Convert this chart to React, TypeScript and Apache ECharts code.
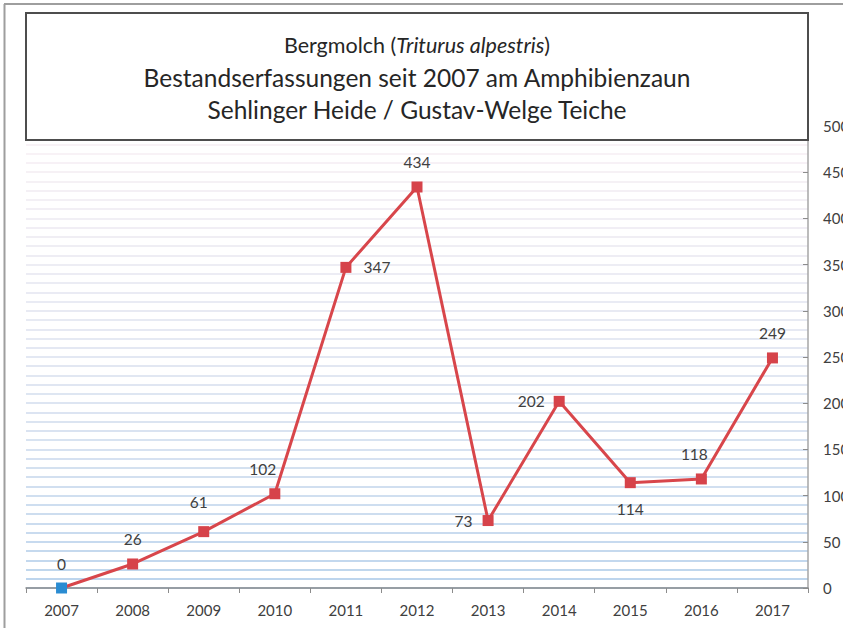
import React, { useEffect, useRef } from "react";
import * as echarts from "echarts";

const years = ["2007", "2008", "2009", "2010", "2011", "2012", "2013", "2014", "2015", "2016", "2017"];
const counts = [0, 26, 61, 102, 347, 434, 73, 202, 114, 118, 249];
const titleLine1Plain = "Bergmolch (";
const titleLine1Italic = "Triturus alpestris";
const titleLine2 = "Bestandserfassungen seit 2007 am Amphibienzaun";
const titleLine3 = "Sehlinger Heide / Gustav-Welge Teiche";

const FONT = "Lato";

const labelCfg: any[] = [
  { position: "top", distance: 11 },
  { position: "top", distance: 11 },
  { position: "top", distance: 16, offset: [-5, 0] },
  { position: "top", distance: 11, offset: [-12, 0] },
  { position: "right", distance: 12 },
  { position: "top", distance: 11 },
  { position: "left", distance: 10 },
  { position: "left", distance: 9 },
  { position: "bottom", distance: 13 },
  { position: "top", distance: 11, offset: [-7, 0] },
  { position: "top", distance: 11 },
];

function stripeColors(): string[] {
  const out: string[] = [];
  const a = [182, 210, 236];
  const b = [250, 243, 246];
  for (let i = 0; i <= 50; i++) {
    const t = Math.pow(i / 50, 0.6);
    const c = a.map((v, k) => Math.round(v + (b[k] - v) * t));
    out.push(`rgb(${c[0]},${c[1]},${c[2]})`);
  }
  return out;
}

export default function App() {
  const ref = useRef<HTMLDivElement>(null);
  useEffect(() => {
    document.body.style.margin = "0";
    document.body.style.overflow = "hidden";
    document.documentElement.style.overflow = "hidden";
    const chart = echarts.init(ref.current!, null, { renderer: "svg", width: 843, height: 628 });
    const data = counts.map((v, i) => ({
      value: v,
      itemStyle: i === 0 ? { color: "#2a8cd2" } : undefined,
      label: labelCfg[i],
    }));
    chart.setOption({
      animation: false,
      backgroundColor: "#fff",
      grid: { left: 26, right: 35, top: 126, bottom: 40, containLabel: false, outerBoundsMode: "none" },
      xAxis: {
        type: "category",
        data: years,
        boundaryGap: true,
        axisLine: { lineStyle: { color: "#8c8c8c", width: 1.5 } },
        axisTick: { show: true, length: 5, lineStyle: { color: "#8c8c8c" } },
        axisLabel: { color: "#404040", fontFamily: FONT, fontSize: 15, margin: 14 },
        splitLine: { show: false },
      },
      yAxis: [
        {
          type: "value",
          position: "right",
          min: 0,
          max: 500,
          interval: 50,
          axisLine: { show: true, lineStyle: { color: "#a6a6a6", width: 1.5 } },
          axisTick: { show: true, inside: true, length: 5, lineStyle: { color: "#8c8c8c" } },
          axisLabel: { color: "#404040", fontFamily: FONT, fontSize: 15, margin: 15 },
          splitLine: { show: false },
        },
        {
          type: "value",
          position: "right",
          min: 0,
          max: 500,
          interval: 10,
          axisLine: { show: false },
          axisTick: { show: false },
          axisLabel: { show: false },
          splitLine: { show: true, lineStyle: { color: stripeColors(), width: 2 } },
        },
      ],
      series: [
        {
          type: "line",
          yAxisIndex: 0,
          data,
          symbol: "rect",
          symbolSize: 11,
          lineStyle: { color: "#d8464b", width: 3 },
          itemStyle: { color: "#d6434a" },
          label: {
            show: true,
            color: "#404040",
            fontFamily: FONT,
            fontSize: 15.5,
          },
          z: 3,
        },
      ],
      graphic: [
        {
          type: "line",
          shape: { x1: 4, y1: 4, x2: 843, y2: 4 },
          style: { stroke: "#9e9e9e", lineWidth: 2 },
          z: 10,
        },
        {
          type: "line",
          shape: { x1: 4.5, y1: 4, x2: 4.5, y2: 628 },
          style: { stroke: "#9e9e9e", lineWidth: 2 },
          z: 10,
        },
        {
          type: "rect",
          shape: { x: 26, y: 13, width: 782, height: 127 },
          style: { fill: "#ffffff", stroke: "#4d4d4d", lineWidth: 2 },
          z: 10,
        },
        {
          type: "text",
          x: 417,
          y: 45,
          style: {
            text: `{n|${titleLine1Plain}}{i|${titleLine1Italic}}{n|)}`,
            align: "center",
            verticalAlign: "middle",
            rich: {
              n: { fontFamily: FONT, fontSize: 21.5, fill: "#262626" },
              i: { fontFamily: FONT, fontSize: 21.5, fontStyle: "italic", fill: "#262626" },
            },
          },
          z: 11,
        },
        {
          type: "text",
          x: 417,
          y: 77,
          style: {
            text: titleLine2,
            align: "center",
            verticalAlign: "middle",
            fontFamily: FONT,
            fontSize: 24.5,
            fill: "#262626",
          },
          z: 11,
        },
        {
          type: "text",
          x: 417,
          y: 109,
          style: {
            text: titleLine3,
            align: "center",
            verticalAlign: "middle",
            fontFamily: FONT,
            fontSize: 24.5,
            fill: "#262626",
          },
          z: 11,
        },
      ],
    });
    return () => chart.dispose();
  }, []);
  return <div ref={ref} style={{ width: 843, height: 628 }} />;
}
